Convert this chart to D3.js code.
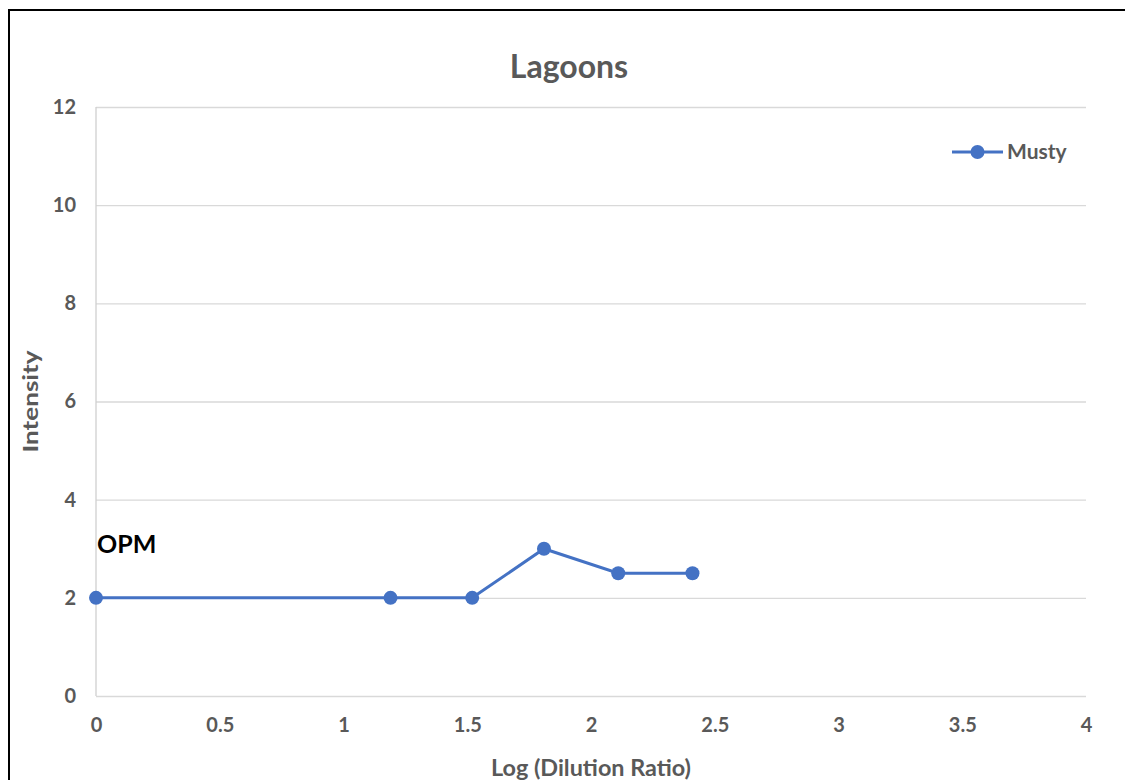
<!DOCTYPE html>
<html>
<head>
<meta charset="utf-8">
<script src="https://cdn.jsdelivr.net/npm/d3@7"></script>
<style>
  body { margin: 0; background: #fff; }
  svg { font-family: Lato, "Open Sans", sans-serif; }
</style>
</head>
<body>
<div id="chart"></div>
<script>
// data
var logDilution = [0, 1.19, 1.52, 1.81, 2.11, 2.41];
var musty = [2, 2, 2, 3, 2.5, 2.5];
var xTicks = [0, 0.5, 1, 1.5, 2, 2.5, 3, 3.5, 4];
var yTicks = [0, 2, 4, 6, 8, 10, 12];
var seriesName = "Musty";

var W = 1125, H = 780;
var margin = {top: 107, right: 39, bottom: 84, left: 96};
var width = W - margin.left - margin.right, height = H - margin.top - margin.bottom;
var blue = "#4472C4", grey = "#595959";

var svg = d3.select("#chart").append("svg")
    .attr("width", W)
    .attr("height", H);

// outer frame (cut off at right and bottom)
svg.append("rect")
    .attr("x", 9).attr("y", 10)
    .attr("width", W + 20).attr("height", H + 20)
    .attr("fill", "none")
    .attr("stroke", "#000")
    .attr("stroke-width", 2);

var g = svg.append("g")
    .attr("transform", "translate(" + margin.left + "," + margin.top + ")");

var x = d3.scaleLinear().domain([0, 4]).range([0, width]);
var y = d3.scaleLinear().domain([0, 12]).range([height, 0]);

// gridlines
g.append("g")
    .call(d3.axisLeft(y).tickValues(yTicks).tickSize(-width).tickFormat(""))
    .call(a => a.select(".domain").remove())
    .selectAll("line")
    .attr("stroke", "#d9d9d9")
    .attr("stroke-width", 1.3);

// left axis line
g.append("line")
    .attr("x1", 0).attr("x2", 0)
    .attr("y1", 0).attr("y2", height)
    .attr("stroke", "#d0d0d0")
    .attr("stroke-width", 1.3);

// y tick labels
g.append("g")
    .call(d3.axisLeft(y).tickValues(yTicks).tickSize(0).tickPadding(20).tickFormat(d3.format("d")))
    .call(a => a.select(".domain").remove())
    .selectAll("text")
    .attr("fill", grey)
    .style("font-size", "20px")
    .style("font-weight", "bold")
    .attr("font-family", "Lato, sans-serif");

// x tick labels
g.append("g")
    .attr("transform", "translate(0," + height + ")")
    .call(d3.axisBottom(x).tickValues(xTicks).tickSize(0).tickPadding(22).tickFormat(d3.format("")))
    .call(a => a.select(".domain").remove())
    .selectAll("text")
    .attr("fill", grey)
    .style("font-size", "20px")
    .style("font-weight", "bold")
    .attr("font-family", "Lato, sans-serif");

// title
svg.append("text")
    .attr("x", 569).attr("y", 78)
    .attr("text-anchor", "middle")
    .attr("fill", grey)
    .style("font-size", "32px")
    .style("font-weight", "bold")
    .text("Lagoons");

// axis titles, centred on the plot area
svg.append("text")
    .attr("x", margin.left + width / 2).attr("y", 776)
    .attr("text-anchor", "middle")
    .attr("fill", grey)
    .style("font-size", "22px")
    .style("font-weight", "bold")
    .attr("textLength", 200)
    .attr("lengthAdjust", "spacingAndGlyphs")
    .text("Log (Dilution Ratio)");

svg.append("text")
    .attr("transform", "translate(38," + (margin.top + height / 2) + ") rotate(-90)")
    .attr("text-anchor", "middle")
    .attr("fill", grey)
    .style("font-size", "21px")
    .style("font-weight", "bold")
    .attr("textLength", 102)
    .attr("lengthAdjust", "spacingAndGlyphs")
    .text("Intensity");

// series
var pts = logDilution.map((d, i) => [d, musty[i]]);
var line = d3.line().x(d => x(d[0])).y(d => y(d[1]));

g.append("path")
    .datum(pts)
    .attr("d", line)
    .attr("fill", "none")
    .attr("stroke", blue)
    .attr("stroke-width", 3);

g.selectAll("circle.pt")
    .data(pts)
    .enter()
    .append("circle")
    .attr("class", "pt")
    .attr("cx", d => x(d[0]))
    .attr("cy", d => y(d[1]))
    .attr("r", 7)
    .attr("fill", blue);

// annotation
g.append("text")
    .attr("x", x(0) + 1)
    .attr("y", y(2.92))
    .attr("fill", "#000")
    .style("font-size", "25px")
    .style("font-weight", "bold")
    .text("OPM");

// legend
var lg = svg.append("g").attr("transform", "translate(952,152)");
lg.append("line")
    .attr("x1", 0).attr("x2", 51)
    .attr("stroke", blue)
    .attr("stroke-width", 3);
lg.append("circle")
    .attr("cx", 25.5).attr("r", 7)
    .attr("fill", blue);
lg.append("text")
    .attr("x", 55).attr("y", 7)
    .attr("fill", grey)
    .style("font-size", "21px")
    .style("font-weight", "bold")
    .text(seriesName);
</script>
</body>
</html>
